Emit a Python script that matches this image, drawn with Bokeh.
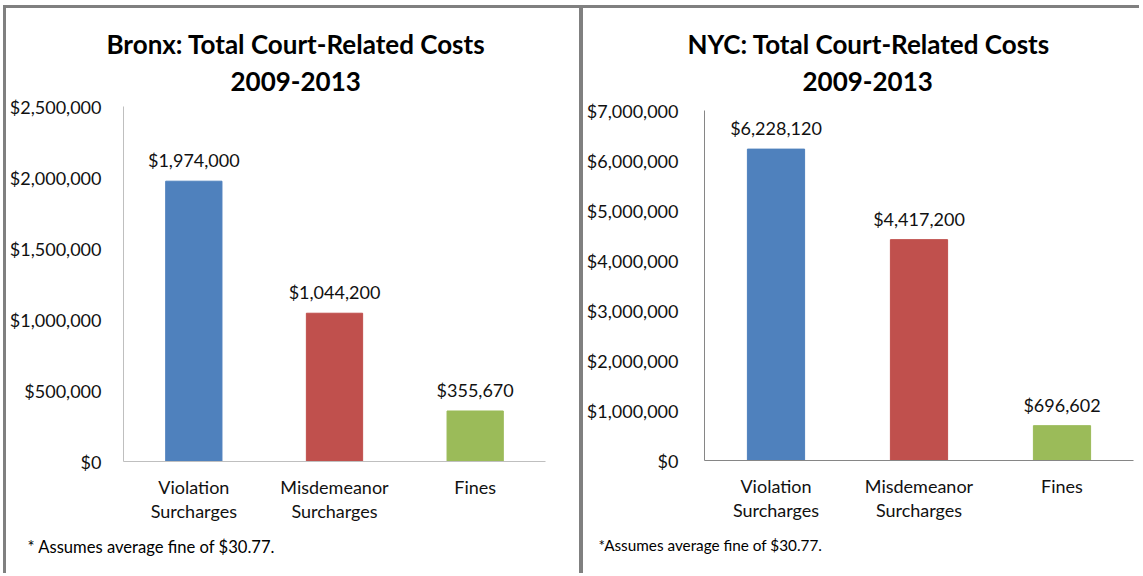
from bokeh.plotting import figure
from bokeh.models import (ColumnDataSource, FactorRange, Range1d, FixedTicker,
                          NumeralTickFormatter, LabelSet, Title)
from bokeh.core.properties import value
from bokeh.layouts import row, column
from bokeh.embed import file_html
from bokeh.resources import INLINE

# ---- data ----
categories = ["Violation\nSurcharges", "Misdemeanor\nSurcharges", "Fines"]
bronx_values = [1974000, 1044200, 355670]
nyc_values = [6228120, 4417200, 696602]
bar_colors = ["#4F81BD", "#C0504D", "#9BBB59"]
bronx_ticks = [0, 500000, 1000000, 1500000, 2000000, 2500000]
nyc_ticks = [0, 1000000, 2000000, 3000000, 4000000, 5000000, 6000000, 7000000]
bronx_title = ["Bronx: Total Court-Related Costs", "2009-2013"]
nyc_title = ["NYC: Total Court-Related Costs", "2009-2013"]
bronx_note = "* Assumes average fine of $30.77."
nyc_note = "*Assumes average fine of $30.77."

FONT = "Lato"
BORDER = "#808080"


def make_panel(values, ticks, title_lines, note, ymax, width, height,
               mb_left, mb_right, mb_top, mb_bottom, axis_color,
               tick_standoff, title_offsets, title_standoffs, note_offset,
               note_size, styles):
    src = ColumnDataSource(dict(cat=categories, val=values, color=bar_colors,
                                lab=["${:,}".format(v) for v in values]))
    p = figure(x_range=FactorRange(*categories, range_padding=0),
               y_range=Range1d(0, ymax), width=width, height=height,
               output_backend="svg", toolbar_location=None,
               min_border_left=mb_left, min_border_right=mb_right,
               min_border_top=mb_top, min_border_bottom=mb_bottom,
               styles=styles)
    p.outline_line_color = None
    p.background_fill_color = "white"
    p.border_fill_color = "white"
    p.xgrid.visible = False
    p.ygrid.visible = False

    p.vbar(x="cat", top="val", width=0.4, color="color", source=src)
    p.add_layout(LabelSet(x="cat", y="val", text="lab", source=src,
                          text_align="center", text_baseline="middle",
                          y_offset=21, text_font=value(FONT),
                          text_font_size="18px", text_color="#111111"))

    for ax in (p.xaxis[0], p.yaxis[0]):
        ax.axis_line_color = axis_color
        ax.axis_line_width = 1
        ax.major_tick_line_color = None
        ax.minor_tick_line_color = None
        ax.major_label_text_font = FONT
        ax.major_label_text_font_size = "18px"
        ax.major_label_text_color = "#111111"
    p.yaxis[0].ticker = FixedTicker(ticks=ticks)
    p.yaxis[0].formatter = NumeralTickFormatter(format="$0,0")
    p.yaxis[0].major_label_standoff = tick_standoff
    p.xaxis[0].major_label_standoff = 8
    p.xaxis[0].major_label_text_line_height = 1.12

    # title lines: line 2 is added first so it sits closest to the frame
    for i in (1, 0):
        p.add_layout(Title(text=title_lines[i], align="left",
                           offset=title_offsets[i], text_font=FONT,
                           text_font_size="26px", text_font_style="bold",
                           text_color="black", standoff=title_standoffs[i]),
                     "above")
    p.add_layout(Title(text=note, align="left", offset=note_offset,
                       text_font=FONT, text_font_size=note_size,
                       text_font_style="normal", text_color="black",
                       standoff=19), "below")
    return p


p1 = make_panel(bronx_values, bronx_ticks, bronx_title, bronx_note, 2500000,
                576, 568, 112, 37, 98, 115, "#BFBFBF", 16,
                (-17, 107), (-12, 32), -96, "16.6px",
                {"border-top": f"3px solid {BORDER}",
                 "border-left": f"3px solid {BORDER}",
                 "margin-left": "3px", "margin-top": "5px"})
p2 = make_panel(nyc_values, nyc_ticks, nyc_title, nyc_note, 7000000,
                560, 568, 121, 10, 102, 116, "#868686", 20,
                (-17, 98), (-20, 40), -106, "15.3px",
                {"border-top": f"3px solid {BORDER}",
                 "border-left": f"4px solid {BORDER}",
                 "margin-top": "5px"})

# wrap each panel separately so the two plot frames are not aligned
layout = row(column(p1), column(p2), spacing=0)
open("out.html", "w").write(file_html(layout, INLINE))
